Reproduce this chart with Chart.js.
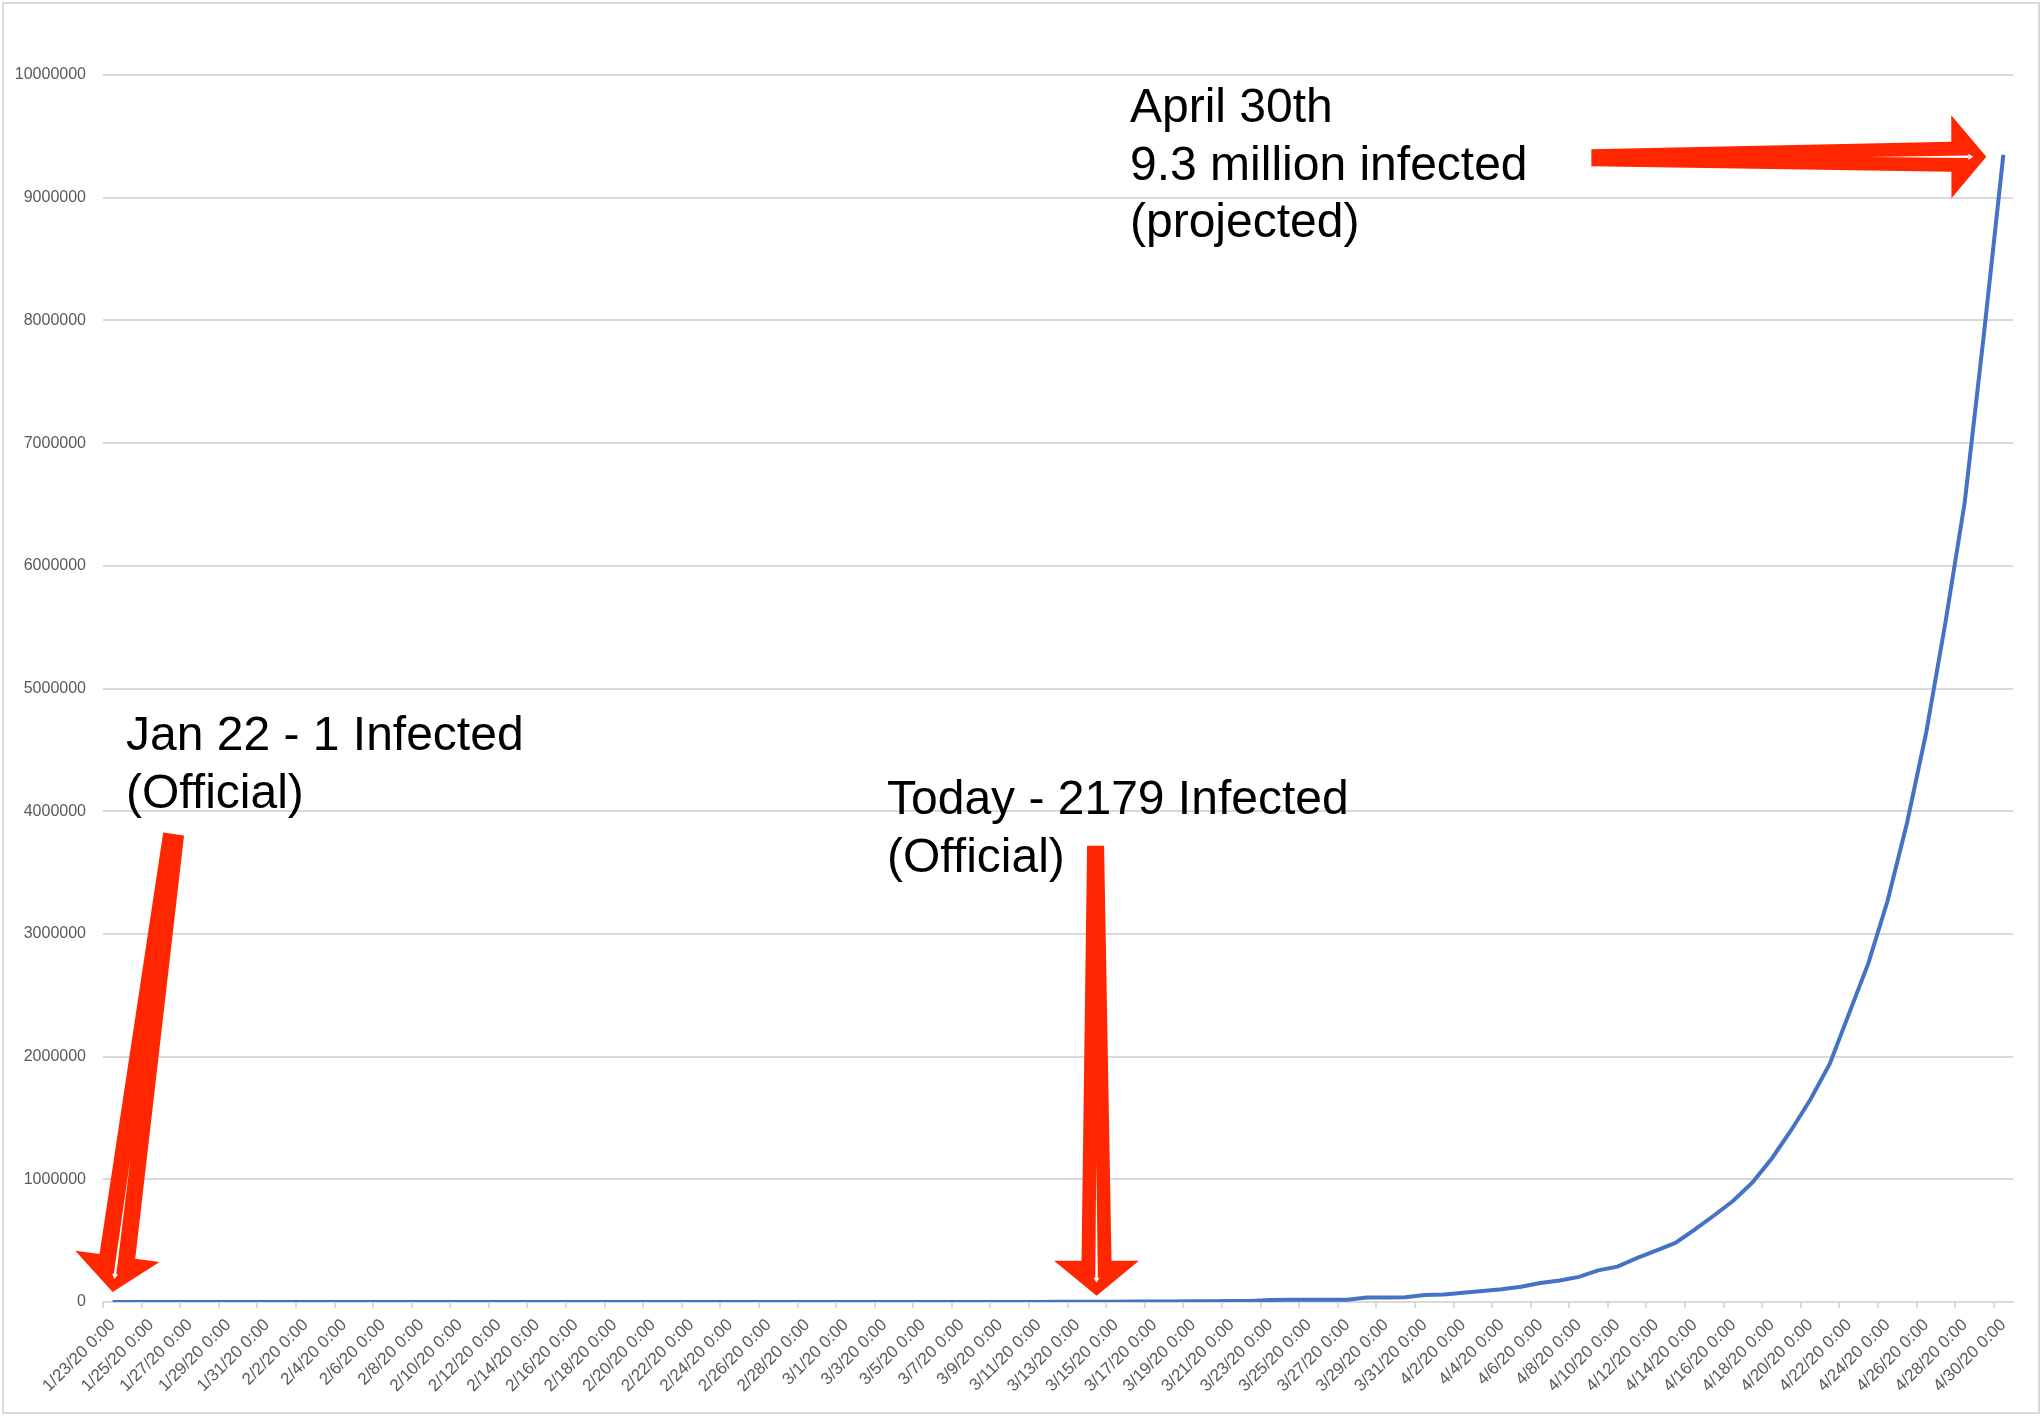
<!DOCTYPE html>
<html>
<head>
<meta charset="utf-8">
<script src="https://cdn.jsdelivr.net/npm/chart.js@4.4.1/dist/chart.umd.min.js"></script>
<style>
  html, body { margin: 0; padding: 0; background: #fff; }
  canvas { display: block; }
</style>
</head>
<body>
<canvas id="myChart" width="2042" height="1416"></canvas>
<script>
// one category per day, labels shown every second day
const dates = [
  '1/23/20 0:00','1/24/20 0:00','1/25/20 0:00','1/26/20 0:00','1/27/20 0:00','1/28/20 0:00','1/29/20 0:00','1/30/20 0:00','1/31/20 0:00',
  '2/1/20 0:00','2/2/20 0:00','2/3/20 0:00','2/4/20 0:00','2/5/20 0:00','2/6/20 0:00','2/7/20 0:00','2/8/20 0:00','2/9/20 0:00','2/10/20 0:00',
  '2/11/20 0:00','2/12/20 0:00','2/13/20 0:00','2/14/20 0:00','2/15/20 0:00','2/16/20 0:00','2/17/20 0:00','2/18/20 0:00','2/19/20 0:00','2/20/20 0:00',
  '2/21/20 0:00','2/22/20 0:00','2/23/20 0:00','2/24/20 0:00','2/25/20 0:00','2/26/20 0:00','2/27/20 0:00','2/28/20 0:00','2/29/20 0:00',
  '3/1/20 0:00','3/2/20 0:00','3/3/20 0:00','3/4/20 0:00','3/5/20 0:00','3/6/20 0:00','3/7/20 0:00','3/8/20 0:00','3/9/20 0:00','3/10/20 0:00',
  '3/11/20 0:00','3/12/20 0:00','3/13/20 0:00','3/14/20 0:00','3/15/20 0:00','3/16/20 0:00','3/17/20 0:00','3/18/20 0:00','3/19/20 0:00','3/20/20 0:00',
  '3/21/20 0:00','3/22/20 0:00','3/23/20 0:00','3/24/20 0:00','3/25/20 0:00','3/26/20 0:00','3/27/20 0:00','3/28/20 0:00','3/29/20 0:00','3/30/20 0:00','3/31/20 0:00',
  '4/1/20 0:00','4/2/20 0:00','4/3/20 0:00','4/4/20 0:00','4/5/20 0:00','4/6/20 0:00','4/7/20 0:00','4/8/20 0:00','4/9/20 0:00','4/10/20 0:00',
  '4/11/20 0:00','4/12/20 0:00','4/13/20 0:00','4/14/20 0:00','4/15/20 0:00','4/16/20 0:00','4/17/20 0:00','4/18/20 0:00','4/19/20 0:00','4/20/20 0:00',
  '4/21/20 0:00','4/22/20 0:00','4/23/20 0:00','4/24/20 0:00','4/25/20 0:00','4/26/20 0:00','4/27/20 0:00','4/28/20 0:00','4/29/20 0:00','4/30/20 0:00'
];

const infected = [
  1, 1, 2, 2, 5, 5, 5, 5, 5, 7,
  8, 8, 11, 11, 11, 11, 11, 11, 11, 11,
  12, 12, 13, 13, 13, 13, 13, 13, 13, 13,
  15, 15, 15, 51, 51, 57, 58, 60, 68, 74,
  98, 118, 149, 217, 262, 402, 518, 583, 959, 1281,
  1663, 2179, 2800, 3300, 4000, 4700, 5400, 6300, 7200, 8100,
  17000, 17500, 18000, 18600, 19200, 36000, 37000, 38500, 57000, 62000,
  76000, 90000, 104000, 125000, 155000, 176000, 205000, 258000, 288000, 358000,
  418000, 482000, 590000, 705000, 825000, 975000, 1170000, 1400000, 1650000, 1940000,
  2350000, 2760000, 3270000, 3900000, 4640000, 5540000, 6520000, 7900000, 9350000
];

const yMax = 10000000;
const yStep = 1000000;

// call-outs pasted on top of the chart
const notes = [
  { lines: ['Jan 22 - 1 Infected', '(Official)'], x: 126, y: 750 },
  { lines: ['Today - 2179 Infected', '(Official)'], x: 887, y: 814 },
  { lines: ['April 30th', '9.3 million infected', '(projected)'], x: 1130, y: 122 }
];

// arrows point at a data point; tail is given relative to the tip
const arrows = [
  { index: 0, dx: 0, dy: -10, tailDx: 61, tailDy: -458, tailW: 21, baseW: 36, headW: 85, headLen: 36 },
  { index: 51, dx: 0, dy: -6, tailDx: -1, tailDy: -450, tailW: 17, baseW: 30, headW: 85, headLen: 35 },
  { index: 98, dx: -17, dy: 2, tailDx: -395, tailDy: 1, tailW: 17, baseW: 30, headW: 83, headLen: 35 }
];

function drawArrow(ctx, tip, tail, a) {
  const dx = tip.x - tail.x, dy = tip.y - tail.y;
  const len = Math.hypot(dx, dy);
  const ux = dx / len, uy = dy / len;
  const px = -uy, py = ux;
  const bx = tip.x - ux * a.headLen, by = tip.y - uy * a.headLen;
  ctx.fillStyle = '#ff2600';
  ctx.beginPath();
  ctx.moveTo(tail.x + px * a.tailW / 2, tail.y + py * a.tailW / 2);
  ctx.lineTo(bx + px * a.baseW / 2, by + py * a.baseW / 2);
  ctx.lineTo(bx + px * a.headW / 2, by + py * a.headW / 2);
  ctx.lineTo(tip.x, tip.y);
  ctx.lineTo(bx - px * a.headW / 2, by - py * a.headW / 2);
  ctx.lineTo(bx - px * a.baseW / 2, by - py * a.baseW / 2);
  ctx.lineTo(tail.x - px * a.tailW / 2, tail.y - py * a.tailW / 2);
  ctx.closePath();
  ctx.fill();

  // thin white streak inside the arrow
  const sx = tail.x + dx * 0.7, sy = tail.y + dy * 0.7;
  const ex = tip.x - ux * 18, ey = tip.y - uy * 18;
  ctx.fillStyle = '#ffffff';
  ctx.beginPath();
  ctx.moveTo(sx, sy);
  ctx.lineTo(ex + px * 1.3, ey + py * 1.3);
  ctx.lineTo(ex - px * 1.3, ey - py * 1.3);
  ctx.closePath();
  ctx.fill();
  ctx.beginPath();
  ctx.moveTo(ex + ux * 5, ey + uy * 5);
  ctx.lineTo(ex + px * 3, ey + py * 3);
  ctx.lineTo(ex - px * 3, ey - py * 3);
  ctx.closePath();
  ctx.fill();
}

const pagePlugin = {
  id: 'page',
  beforeDraw(chart) {
    const ctx = chart.ctx;
    ctx.save();
    ctx.fillStyle = '#ffffff';
    ctx.fillRect(0, 0, chart.width, chart.height);
    ctx.strokeStyle = '#d9d9d9';
    ctx.lineWidth = 2;
    ctx.strokeRect(3, 3, chart.width - 6, chart.height - 6);
    ctx.restore();
  },
  afterDraw(chart) {
    const ctx = chart.ctx;
    const xs = chart.scales.x, ys = chart.scales.y;
    ctx.save();
    arrows.forEach(a => {
      const tip = {
        x: xs.getPixelForValue(a.index) + a.dx,
        y: ys.getPixelForValue(infected[a.index]) + a.dy
      };
      const tail = { x: tip.x + a.tailDx, y: tip.y + a.tailDy };
      drawArrow(ctx, tip, tail, a);
    });
    ctx.fillStyle = '#000000';
    ctx.font = '48px "Liberation Sans", Arial, sans-serif';
    ctx.textAlign = 'left';
    ctx.textBaseline = 'alphabetic';
    notes.forEach(n => {
      n.lines.forEach((t, k) => ctx.fillText(t, n.x, n.y + k * 57.5));
    });
    ctx.restore();
  }
};

const yFont = { family: '"Liberation Sans", Arial, sans-serif', size: 16 };
const xFont = { family: '"Liberation Sans", Arial, sans-serif', size: 17 };

const newChart = document.getElementById('myChart').getContext('2d');
const myChart = new Chart(newChart, {
  type: 'line',
  data: {
    labels: dates,
    datasets: [{
      label: 'Infected',
      data: infected,
      borderColor: '#4472C4',
      backgroundColor: '#4472C4',
      borderWidth: 4,
      pointRadius: 0,
      tension: 0,
      fill: false
    }]
  },
  plugins: [pagePlugin],
  options: {
    responsive: false,
    animation: false,
    devicePixelRatio: 1,
    layout: { padding: { left: 3, right: 29, top: 75, bottom: 4 } },
    plugins: {
      legend: { display: false },
      tooltip: { enabled: false }
    },
    scales: {
      x: {
        offset: true,
        grid: {
          offset: true,
          drawOnChartArea: false,
          drawTicks: true,
          tickLength: 6,
          lineWidth: 2,
          color: ctx => (ctx.index % 2 === 0 ? '#d9d9d9' : 'rgba(0,0,0,0)')
        },
        border: { display: true, color: '#d9d9d9', width: 2 },
        ticks: {
          autoSkip: false,
          minRotation: 45,
          maxRotation: 45,
          padding: 7,
          color: '#595959',
          font: xFont,
          callback: function(value, index) {
            return index % 2 === 0 ? dates[index] : '';
          }
        },
        afterFit: scale => { scale.height = 110; }
      },
      y: {
        min: 0,
        max: yMax,
        grid: {
          color: '#d9d9d9',
          lineWidth: 2,
          drawTicks: false
        },
        border: { display: false },
        ticks: {
          stepSize: yStep,
          padding: 17,
          color: '#595959',
          font: yFont,
          callback: function(value) { return String(value); }
        },
        afterFit: scale => { scale.width = 100; }
      }
    }
  }
});
</script>
</body>
</html>
